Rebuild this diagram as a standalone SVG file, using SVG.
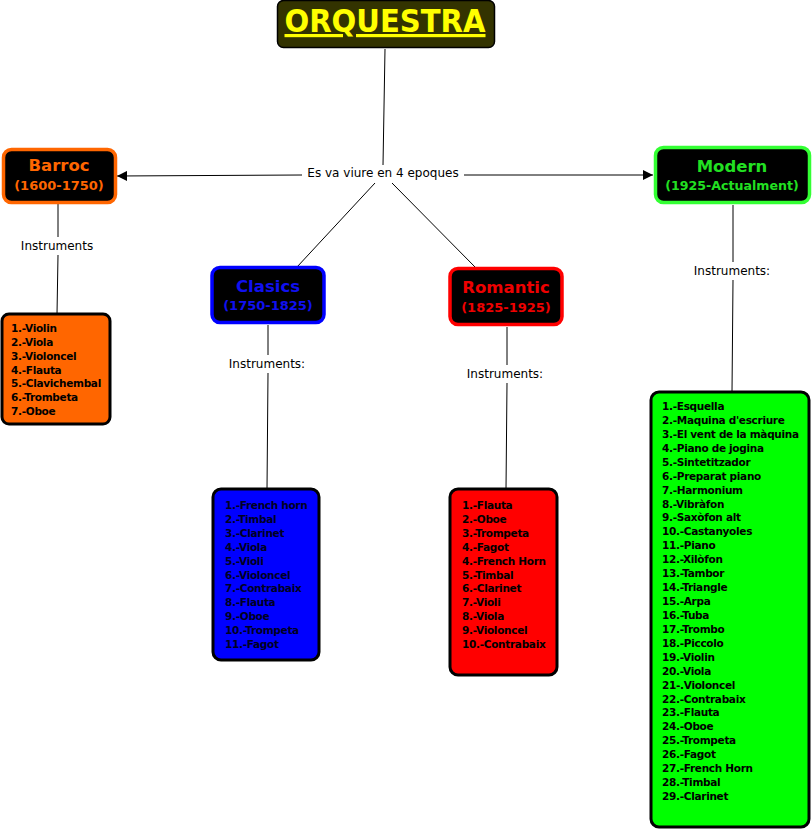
<svg xmlns="http://www.w3.org/2000/svg" width="812" height="829" viewBox="0 0 812 829">
<defs>
<style>
.hdr{stroke-width:3.5;fill:#000}
.lst{stroke:#000;stroke-width:3}
.ht{font-family:"DejaVu Sans",Verdana,sans-serif;font-weight:bold;text-anchor:middle}
.lt{font-family:"DejaVu Sans",Verdana,sans-serif;font-weight:bold;font-size:10.5px;letter-spacing:-0.3px}
.lab{font-family:"DejaVu Sans",Verdana,sans-serif;font-size:12px;text-anchor:middle;fill:#000}
.c{stroke:#000;stroke-width:1;fill:none}
</style>
<marker id="arr" viewBox="0 0 10 10" refX="10" refY="5" markerWidth="10" markerHeight="10" markerUnits="userSpaceOnUse" orient="auto">
<path d="M0,0 L10,5 L0,10 Z" fill="#000"/>
</marker>
</defs>
<rect width="812" height="829" fill="#fff"/>
<g id="connectors">
<line class="c" x1="385" y1="49" x2="383" y2="165"/>
<line class="c" x1="302" y1="175" x2="117" y2="176" marker-end="url(#arr)"/>
<line class="c" x1="464" y1="175" x2="653" y2="175" marker-end="url(#arr)"/>
<line class="c" x1="375" y1="183" x2="297" y2="267"/>
<line class="c" x1="392" y1="183" x2="477" y2="269"/>
<line class="c" x1="58" y1="204" x2="58" y2="237"/>
<line class="c" x1="58" y1="255" x2="57" y2="314"/>
<line class="c" x1="268" y1="325" x2="268" y2="355"/>
<line class="c" x1="268" y1="373" x2="267" y2="489"/>
<line class="c" x1="507" y1="327" x2="507" y2="365"/>
<line class="c" x1="507" y1="383" x2="506" y2="489"/>
<line class="c" x1="733" y1="205" x2="733" y2="262"/>
<line class="c" x1="733" y1="280" x2="732" y2="392"/>
<text class="lab" x="383" y="177">Es va viure en 4 epoques</text>
<text class="lab" x="57" y="250">Instruments</text>
<text class="lab" x="267" y="368">Instruments:</text>
<text class="lab" x="505" y="378">Instruments:</text>
<text class="lab" x="732" y="275">Instruments:</text>
</g>
<g id="orquestra">
<rect x="277.5" y="0.5" width="217" height="47" rx="6" fill="#333300" stroke="#000" stroke-width="1.5"/>
<text class="ht" x="385" y="32" font-size="32" fill="#ffff00" text-decoration="underline" textLength="201" lengthAdjust="spacingAndGlyphs">ORQUESTRA</text>
</g>
<g id="barroc">
<rect class="hdr" x="3.5" y="149.5" width="112" height="53" rx="8" stroke="#ff6600"/>
<text class="ht" x="59" y="171" font-size="16.5" fill="#ff6600">Barroc</text>
<text class="ht" x="59" y="190" font-size="13" fill="#ff6600">(1600-1750)</text>
</g>
<g id="clasics">
<rect class="hdr" x="212" y="267.5" width="112" height="55" rx="8" stroke="#0000ff"/>
<text class="ht" x="268" y="292" font-size="16.5" fill="#1010f0">Clasics</text>
<text class="ht" x="268" y="310" font-size="13" fill="#1010f0">(1750-1825)</text>
</g>
<g id="romantic">
<rect class="hdr" x="450" y="268.5" width="112" height="56" rx="8" stroke="#ff0000"/>
<text class="ht" x="506" y="293" font-size="16.5" fill="#ee0000">Romantic</text>
<text class="ht" x="506" y="312" font-size="13" fill="#ee0000">(1825-1925)</text>
</g>
<g id="modern">
<rect class="hdr" x="655.5" y="147.5" width="154" height="55" rx="8" stroke="#33ff33"/>
<text class="ht" x="732" y="172" font-size="16.5" fill="#22e022">Modern</text>
<text class="ht" x="732" y="190" font-size="12.6" fill="#22e022">(1925-Actualment)</text>
</g>
<g id="barroc-list">
<rect class="lst" x="2" y="314" width="108" height="110" rx="7" fill="#ff6600"/>
<text class="lt" x="11" y="332" fill="#000">
<tspan x="11" dy="0">1.-Violin</tspan>
<tspan x="11" dy="13.85">2.-Viola</tspan>
<tspan x="11" dy="13.85">3.-Violoncel</tspan>
<tspan x="11" dy="13.85">4.-Flauta</tspan>
<tspan x="11" dy="13.85">5.-Clavichembal</tspan>
<tspan x="11" dy="13.85">6.-Trombeta</tspan>
<tspan x="11" dy="13.85">7.-Oboe</tspan>
</text>
</g>
<g id="clasics-list">
<rect class="lst" x="213" y="489" width="106" height="171" rx="8" fill="#0000ff"/>
<text class="lt" x="225" y="509" fill="#000022">
<tspan x="225" dy="0">1.-French horn</tspan>
<tspan x="225" dy="13.9">2.-Timbal</tspan>
<tspan x="225" dy="13.9">3.-Clarinet</tspan>
<tspan x="225" dy="13.9">4.-Viola</tspan>
<tspan x="225" dy="13.9">5.-Violi</tspan>
<tspan x="225" dy="13.9">6.-Violoncel</tspan>
<tspan x="225" dy="13.9">7.-Contrabaix</tspan>
<tspan x="225" dy="13.9">8.-Flauta</tspan>
<tspan x="225" dy="13.9">9.-Oboe</tspan>
<tspan x="225" dy="13.9">10.-Trompeta</tspan>
<tspan x="225" dy="13.9">11.-Fagot</tspan>
</text>
</g>
<g id="romantic-list">
<rect class="lst" x="450" y="489" width="107" height="186" rx="8" fill="#ff0000"/>
<text class="lt" x="462" y="509" fill="#000">
<tspan x="462" dy="0">1.-Flauta</tspan>
<tspan x="462" dy="13.9">2.-Oboe</tspan>
<tspan x="462" dy="13.9">3.-Trompeta</tspan>
<tspan x="462" dy="13.9">4.-Fagot</tspan>
<tspan x="462" dy="13.9">4.-French Horn</tspan>
<tspan x="462" dy="13.9">5.-Timbal</tspan>
<tspan x="462" dy="13.9">6.-Clarinet</tspan>
<tspan x="462" dy="13.9">7.-Violi</tspan>
<tspan x="462" dy="13.9">8.-Viola</tspan>
<tspan x="462" dy="13.9">9.-Violoncel</tspan>
<tspan x="462" dy="13.9">10.-Contrabaix</tspan>
</text>
</g>
<g id="modern-list">
<rect class="lst" x="651" y="392" width="158" height="435" rx="8" fill="#00ff00"/>
<text class="lt" x="662" y="410" fill="#000">
<tspan x="662" dy="0">1.-Esquella</tspan>
<tspan x="662" dy="13.93">2.-Maquina d'escriure</tspan>
<tspan x="662" dy="13.93">3.-El vent de la màquina</tspan>
<tspan x="662" dy="13.93">4.-Piano de jogina</tspan>
<tspan x="662" dy="13.93">5.-Sintetitzador</tspan>
<tspan x="662" dy="13.93">6.-Preparat piano</tspan>
<tspan x="662" dy="13.93">7.-Harmonium</tspan>
<tspan x="662" dy="13.93">8.-Vibràfon</tspan>
<tspan x="662" dy="13.93">9.-Saxòfon alt</tspan>
<tspan x="662" dy="13.93">10.-Castanyoles</tspan>
<tspan x="662" dy="13.93">11.-Piano</tspan>
<tspan x="662" dy="13.93">12.-Xilòfon</tspan>
<tspan x="662" dy="13.93">13.-Tambor</tspan>
<tspan x="662" dy="13.93">14.-Triangle</tspan>
<tspan x="662" dy="13.93">15.-Arpa</tspan>
<tspan x="662" dy="13.93">16.-Tuba</tspan>
<tspan x="662" dy="13.93">17.-Trombo</tspan>
<tspan x="662" dy="13.93">18.-Piccolo</tspan>
<tspan x="662" dy="13.93">19.-Violin</tspan>
<tspan x="662" dy="13.93">20.-Viola</tspan>
<tspan x="662" dy="13.93">21-.Violoncel</tspan>
<tspan x="662" dy="13.93">22.-Contrabaix</tspan>
<tspan x="662" dy="13.93">23.-Flauta</tspan>
<tspan x="662" dy="13.93">24.-Oboe</tspan>
<tspan x="662" dy="13.93">25.-Trompeta</tspan>
<tspan x="662" dy="13.93">26.-Fagot</tspan>
<tspan x="662" dy="13.93">27.-French Horn</tspan>
<tspan x="662" dy="13.93">28.-Timbal</tspan>
<tspan x="662" dy="13.93">29.-Clarinet</tspan>
</text>
</g>
</svg>
